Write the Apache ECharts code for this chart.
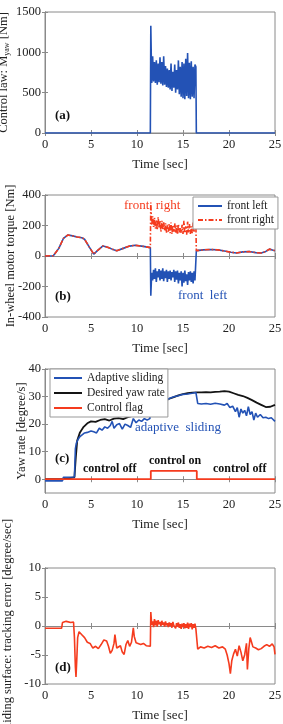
<!DOCTYPE html>
<html>
<head>
<meta charset="utf-8">
<script src="https://cdn.jsdelivr.net/npm/echarts@6/dist/echarts.min.js"></script>
<style>html,body{margin:0;padding:0;background:#fff;}#c{width:283px;height:724px;}</style>
</head>
<body>
<div id="c"></div>
<script>
// ---------- data ----------
// (a) control law M_yaw [Nm]
const aPreT = [0, 11.45];
const aPreV = [0, 0];
const aNoiseT0 = 11.5, aNoiseDt = 0.1;
const aNoise = [1330, 620, 950, 640, 880, 620, 900, 600, 860, 630, 940, 610, 880, 590, 950, 600, 830, 570, 800, 560,
  780, 540, 860, 520, 760, 560, 850, 500, 780, 540, 900, 480, 820, 450, 880, 430, 860, 420, 920, 460,
  990, 430, 870, 420, 890, 450, 820, 430, 850, 820];
const aPostT = [16.45, 25];
const aPostV = [0, 0];

// (b) in-wheel motor torque [Nm]
const bPreT = [0, 0.9, 1.5, 2.0, 2.5, 3.0, 3.5, 4.0, 4.3, 4.8, 5.3, 5.7, 6.3, 6.8, 7.3, 7.8, 8.5, 9.2, 9.8, 10.5, 11.0, 11.45];
const bPreV = [0, 2, 50, 115, 138, 132, 125, 120, 110, 60, 12, 35, 66, 58, 45, 35, 50, 65, 70, 65, 60, 55];
const bNoiseT0 = 11.5, bNoiseDt = 0.1;
const bRightNoise = [350, 200, 260, 190, 250, 180, 240, 170, 255, 185, 235, 160, 230, 175, 220, 165, 215, 150, 205, 160,
  210, 150, 220, 145, 200, 160, 215, 150, 200, 140, 210, 155, 190, 150, 205, 145, 230, 150, 195, 140,
  225, 155, 210, 145, 195, 150, 220, 160, 230, 200];
const bLeftNoise = [-260, -110, -160, -90, -150, -80, -170, -100, -140, -85, -160, -95, -150, -80, -165, -100, -145, -90, -170, -100,
  -150, -95, -160, -105, -140, -90, -170, -100, -155, -95, -180, -110, -160, -100, -200, -110, -175, -95, -165, -120,
  -190, -105, -160, -100, -170, -110, -180, -100, -160, -150];
const bPostT = [16.45, 16.6, 17.2, 18, 18.8, 19.5, 20.2, 20.8, 21.5, 22.2, 22.9, 23.5, 24, 24.4, 24.8, 25];
const bPostV = [35, 36, 40, 43, 40, 33, 25, 20, 27, 29, 22, 20, 30, 45, 38, 35];

// (c) yaw rate [degree/s]
const cDesT = [0, 1.9, 2.0, 3.2, 3.35, 3.5, 3.8, 4.2, 4.6, 5.0, 5.5, 6.0, 6.5, 7.0, 7.5, 8.0, 8.5, 9.0, 9.5, 10.0,
  10.5, 11.0, 11.5, 12.0, 12.5, 13.0, 13.5, 14.0, 14.5, 15.0, 15.5, 16.0, 16.5, 17.0, 17.5, 18.0, 18.5, 19.0, 19.5, 20.0,
  20.5, 21.0, 21.5, 22.0, 22.5, 23.0, 23.5, 24.0, 24.5, 25.0];
const cDesV = [0, 0, 0.6, 0.7, 8, 14, 17, 19, 20.3, 21, 20.8, 21.5, 21.8, 21.3, 22, 22.2, 21.8, 22.5, 23, 23.5,
  24, 24.8, 25.5, 26.2, 27.3, 28.3, 29.2, 29.8, 30.4, 30.9, 31.2, 31.4, 31.5, 31.5, 31.6, 31.5, 31.7, 31.8, 32, 31.8,
  31.2, 30.6, 30.2, 29.5, 28.7, 27.8, 27, 26.2, 26.3, 27];
const cAdaT = [0, 1.9, 2.0, 3.2, 3.3, 3.4, 3.6, 3.8, 4.0, 4.3, 4.6, 5.0, 5.3, 5.6, 5.9, 6.2, 6.5, 6.8, 7.1, 7.3,
  7.5, 7.8, 8.1, 8.4, 8.7, 9.0, 9.3, 9.6, 9.9, 10.2, 10.5, 10.8, 11.1, 11.4, 11.5, 11.6, 12.0, 12.5, 13.0, 13.5,
  14.0, 14.5, 15.0, 15.5, 16.0, 16.4, 16.5, 16.6, 17.0, 17.5, 18.0, 18.5, 19.0, 19.5, 19.8, 20.1, 20.4, 20.7, 20.9, 21.1,
  21.3, 21.5, 21.7, 21.9, 22.1, 22.3, 22.5, 22.7, 22.9, 23.1, 23.4, 23.7, 24.0, 24.3, 24.6, 24.8, 25.0];
const cAdaV = [-0.6, -0.6, 0.7, 0.8, 11, 13, 14.5, 15.5, 16, 16.8, 17, 17.5, 17.2, 16.8, 18.5, 17.8, 19, 18.5, 19.5, 21,
  18.5, 19.8, 20.2, 18.2, 20, 19.5, 18.8, 22, 20.5, 21.5, 21, 22, 21.5, 22, 28.5, 25.5, 26.2, 27.3, 28.3, 29.3,
  29.9, 30.3, 30.8, 30.9, 31.2, 31.5, 31.4, 27.5, 27.3, 27.5, 27.2, 27.6, 27.3, 26.9, 27.5, 26, 26.5, 24.5, 26, 22.5,
  25.5, 24, 25, 23, 26.3, 23.5, 24.5, 21.5, 24, 22.5, 23.5, 22.3, 22.5, 22, 22.3, 22.7, 21];
const cFlagT = [0, 11.5, 11.5, 16.5, 16.5, 25];
const cFlagV = [0, 0, 3, 3, 0, 0];

// (d) sliding surface: tracking error [degree/sec]
const dPreT = [0, 1.8, 1.9, 2.3, 2.8, 3.1, 3.2, 3.3, 3.37, 3.45, 3.55, 3.7, 4.0, 4.3, 4.6, 4.9, 5.2, 5.5, 5.8, 6.1,
  6.4, 6.7, 6.9, 7.1, 7.3, 7.5, 7.6, 7.8, 8.0, 8.2, 8.4, 8.6, 8.8, 9.0, 9.2, 9.4, 9.6, 9.7, 9.9, 10.1,
  10.4, 10.7, 11.0, 11.2, 11.45];
const dPreV = [-0.4, -0.4, 0.6, 0.8, 0.6, 0.7, -2, -7, -8.8, -6, -2, -1, -1.5, -2, -2.8, -3, -3.8, -3.5, -3.9, -3.2,
  -2.4, -2.6, -3.5, -4.7, -4.2, -3, -1.5, -3.8, -4.1, -3.4, -4.5, -4.9, -3.2, -2.5, -3.5, -2.8, -0.3, -1.8, -2.9, -2.6,
  -3.2, -3.0, -3.4, -3.1, -3.5];
const dNoiseT0 = 11.5, dNoiseDt = 0.1;
const dNoise = [2.4, 0.2, 0.8, -0.2, 1.2, 0.1, 0.9, -0.1, 1.0, 0.3, 0.7, 0.0, 0.9, 0.2, 0.6, -0.1, 0.8, 0.1, 0.5, -0.2,
  0.6, 0.0, 0.5, -0.3, 0.7, 0.1, 0.4, -0.4, 0.5, -0.1, 0.6, -0.3, 0.3, -0.5, 0.4, -0.2, 0.5, -0.4, 0.3, -0.3,
  0.6, -0.5, 0.4, -0.2, 0.5, -0.6, 0.3, -0.3, 0.4, -0.5];
const dPostT = [16.5, 16.6, 16.9, 17.3, 17.7, 18.1, 18.5, 18.9, 19.3, 19.6, 19.8, 20.0, 20.15, 20.3, 20.5, 20.7, 20.9, 21.1, 21.3, 21.5,
  21.7, 21.9, 22.0, 22.15, 22.3, 22.4, 22.6, 22.9, 23.2, 23.5, 23.8, 24.1, 24.4, 24.7, 24.9, 25.0];
const dPostV = [-0.5, -4, -3.6, -3.8, -3.5, -3.7, -3.4, -3.8, -3.6, -4, -5, -6.5, -8.2, -6, -4.8, -4, -5.2, -3.4, -4.5, -6,
  -5, -3, -7.5, -4, -2, -2.5, -3.6, -3.8, -4.1, -3.9, -3.5, -3.2, -3.5, -3.1, -3.6, -4.9];

const xTicks = [0, 5, 10, 15, 20, 25];
const cYTicks = [0, 10, 20, 30, 40];

// ---------- helpers ----------
function mk(ts, vs) { return ts.map((t, i) => [t, vs[i]]); }
function seq(t0, dt, vs) { return vs.map((v, i) => [Math.round((t0 + i * dt) * 100) / 100, v]); }

const FONT = 'Liberation Serif';
const AXC = '#8a8a8a';
const BLUE = '#2352b5';
const RED = '#f53b1e';

const grids = [
  { left: 45, top: 12, width: 230, height: 121 },
  { left: 45, top: 195, width: 230, height: 122 },
  { left: 45, top: 369, width: 230, height: 124 },
  { left: 45, top: 568, width: 230, height: 116 }
].map(g => Object.assign(g, { show: true, borderColor: AXC, borderWidth: 1, backgroundColor: '#fff', containLabel: false, outerBoundsMode: 'none' }));

const yCfg = [
  { min: 0, max: 1500, interval: 500, name: 'Control law: M{s|yaw} [Nm]', gap: 34 },
  { min: -400, max: 400, interval: 200, name: 'In-wheel motor torque [Nm]', gap: 28 },
  { min: -5, max: 40, custom: cYTicks, name: 'Yaw rate [degree/s]', gap: 17 },
  { min: -10, max: 10, interval: 5, name: 'Sliding surface: tracking error [degree/sec]', gap: 31 }
];

const plain = v => String(v);
const xAxes = [], yAxes = [];
for (let i = 0; i < 4; i++) {
  xAxes.push({
    type: 'value', gridIndex: i, min: 0, max: 25, interval: 5, position: 'bottom',
    axisLine: { show: true, lineStyle: { color: AXC, width: 1 } },
    axisTick: { inside: true, length: 3, lineStyle: { color: AXC } },
    splitLine: { show: false },
    axisLabel: { fontFamily: FONT, fontSize: 12.5, color: '#222', margin: 5, formatter: plain },
    name: 'Time [sec]', nameLocation: 'middle', nameGap: 25, nameMoveOverlap: false,
    nameTextStyle: { fontFamily: FONT, fontSize: 13, color: '#222' }
  });
  xAxes.push({
    type: 'value', gridIndex: i, min: 0, max: 25, interval: 5, position: 'top',
    axisLine: { show: true, lineStyle: { color: AXC, width: 1 } },
    axisTick: { inside: true, length: 3, lineStyle: { color: AXC } },
    splitLine: { show: false }, axisLabel: { show: false }
  });
  const c = yCfg[i];
  const base = {
    type: 'value', gridIndex: i, min: c.min, max: c.max,
    axisLine: { show: true, lineStyle: { color: AXC, width: 1 } },
    axisTick: { inside: true, length: 3, lineStyle: { color: AXC } },
    splitLine: { show: false }
  };
  if (c.custom) {
    base.axisTick.customValues = c.custom;
  } else {
    base.interval = c.interval;
  }
  const left = Object.assign({}, base, {
    position: 'left',
    axisTick: Object.assign({}, base.axisTick),
    axisLabel: { fontFamily: FONT, fontSize: 12.5, color: '#222', margin: 4, formatter: plain },
    name: c.name, nameLocation: 'middle', nameGap: c.gap, nameRotate: 90, nameMoveOverlap: false,
    nameTextStyle: { fontFamily: FONT, fontSize: 12.5, color: '#222', rich: { s: { fontFamily: FONT, fontSize: 8, color: '#222', verticalAlign: 'bottom', padding: [6, 0, 0, 0] } } }
  });
  if (c.custom) left.axisLabel.customValues = c.custom;
  const right = Object.assign({}, base, { position: 'right', axisLabel: { show: false } });
  yAxes.push(left, right);
}

function line(name, xi, data, color, width, extra) {
  return Object.assign({
    name, type: 'line', xAxisIndex: xi * 2, yAxisIndex: xi * 2, data,
    showSymbol: false, symbol: 'none', animation: false,
    lineStyle: { color, width }, itemStyle: { color }
  }, extra || {});
}

const series = [
  line('Myaw', 0, [...mk(aPreT, aPreV), ...seq(aNoiseT0, aNoiseDt, aNoise), ...mk(aPostT, aPostV)], BLUE, 1.6),
  line('front left', 1, [...mk(bPreT, bPreV), ...seq(bNoiseT0, bNoiseDt, bLeftNoise), ...mk(bPostT, bPostV)], BLUE, 1.6),
  line('front right', 1, [...mk(bPreT, bPreV), ...seq(bNoiseT0, bNoiseDt, bRightNoise), ...mk(bPostT, bPostV)], RED, 1.6,
    { lineStyle: { color: RED, width: 1.6, type: [5, 2, 1.5, 2] } }),
  line('Desired yaw rate', 2, mk(cDesT, cDesV), '#141414', 1.8),
  line('Adaptive sliding', 2, mk(cAdaT, cAdaV), BLUE, 1.6),
  line('Control flag', 2, mk(cFlagT, cFlagV), RED, 1.8),
  line('tracking error', 3, [...mk(dPreT, dPreV), ...seq(dNoiseT0, dNoiseDt, dNoise), ...mk(dPostT, dPostV)], RED, 1.6)
];

const legTxt = { fontFamily: FONT, fontSize: 11.5, color: '#222' };
const legCommon = { orient: 'vertical', itemHeight: 10, selectedMode: false, borderColor: '#999', borderWidth: 1, backgroundColor: '#fff',
  textStyle: legTxt, itemStyle: { opacity: 0 }, lineStyle: { width: 2 } };
const legends = [
  Object.assign({ data: ['front left', 'front right'], left: 193, top: 197, itemWidth: 24, itemGap: 2, padding: [3, 4, 3, 4] }, legCommon),
  Object.assign({ data: ['Adaptive sliding', 'Desired yaw rate', 'Control flag'], left: 50, top: 369, itemWidth: 28, itemGap: 3, padding: [3, 3, 3, 3] }, legCommon)
];

function txt(text, left, top, font, fill) {
  return { type: 'text', left, top, z: 100, style: { text, font, fill } };
}
const graphic = [
  txt('(a)', 55, 109, 'bold 13px "Liberation Serif"', '#111'),
  txt('(b)', 55, 290, 'bold 13px "Liberation Serif"', '#111'),
  txt('(c)', 55, 452, 'bold 13px "Liberation Serif"', '#111'),
  txt('(d)', 55, 661, 'bold 13px "Liberation Serif"', '#111'),
  txt('front  right', 124, 199, '13px "Liberation Serif"', RED),
  txt('front  left', 178, 289, '13px "Liberation Serif"', BLUE),
  txt('adaptive  sliding', 135, 421, '13px "Liberation Serif"', BLUE),
  txt('control off', 83, 463, 'bold 12px "Liberation Serif"', '#111'),
  txt('control on', 149, 455, 'bold 12px "Liberation Serif"', '#111'),
  txt('control off', 213, 463, 'bold 12px "Liberation Serif"', '#111')
];

const chart = echarts.init(document.getElementById('c'), null, { renderer: 'canvas' });
chart.setOption({
  animation: false,
  backgroundColor: '#fff',
  grid: grids,
  xAxis: xAxes,
  yAxis: yAxes,
  legend: legends,
  series,
  graphic
});
</script>
</body>
</html>
